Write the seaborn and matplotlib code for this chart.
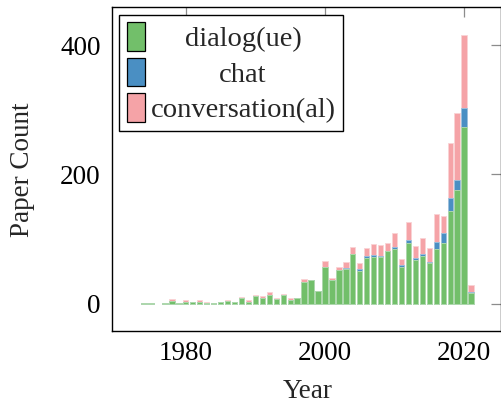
import matplotlib
matplotlib.use("Agg")
import matplotlib.pyplot as plt
import seaborn as sns
import numpy as np
import pandas as pd

# paper counts per year (1976 had none)
years = [1974, 1975, 1977, 1978, 1979, 1980, 1981, 1982, 1983, 1984,
         1985, 1986, 1987, 1988, 1989, 1990, 1991, 1992, 1993, 1994,
         1995, 1996, 1997, 1998, 1999, 2000, 2001, 2002, 2003, 2004,
         2005, 2006, 2007, 2008, 2009, 2010, 2011, 2012, 2013, 2014,
         2015, 2016, 2017, 2018, 2019, 2020, 2021]
dialog = [1, 1, 1, 4, 1, 3, 2, 3, 1, 1,
          2, 4, 2, 9, 3, 12, 8, 13, 7, 13,
          6, 8, 34, 36, 19, 57, 36, 52, 53, 77,
          51, 71, 72, 72, 81, 84, 56, 93, 67, 73,
          62, 84, 94, 143, 175, 273, 16]
chat = [0, 0, 0, 0, 0, 0, 0, 0, 0, 0,
        0, 0, 0, 0, 0, 0, 0, 0, 0, 1,
        0, 0, 0, 0, 0, 0, 0, 0, 2, 0,
        2, 3, 3, 2, 0, 4, 3, 6, 4, 4,
        3, 12, 15, 20, 17, 29, 2]
conversation = [0, 0, 0, 3, 0, 2, 1, 2, 1, 0,
                1, 2, 0, 1, 2, 2, 3, 5, 2, 1,
                2, 1, 4, 1, 1, 9, 4, 5, 9, 11,
                9, 12, 17, 16, 12, 21, 10, 27, 18, 24,
                21, 43, 27, 85, 103, 113, 10]

labels = ["dialog(ue)", "chat", "conversation(al)"]
colors = ["#72bf6a", "#4a8fc3", "#f5a3a7"]
edges = ["#b5dcae", "#9cc3e0", "#fad3d5"]

df = pd.DataFrame({"year": years, "dialog": dialog, "chat": chat,
                   "conversation": conversation})
df["lvl1"] = df["dialog"]
df["lvl2"] = df["lvl1"] + df["chat"]
df["lvl3"] = df["lvl2"] + df["conversation"]

sns.set_theme(style="white")
plt.rcParams["font.family"] = ["Liberation Serif", "DejaVu Serif"]
plt.rcParams["mathtext.fontset"] = "stix"

fig = plt.figure(figsize=(5.01, 4.05), dpi=100)
ax = fig.add_axes([0.223, 0.1827, 0.777, 0.8])

# stacked bars: draw totals first, then overlay the lower layers
for col, c, e, lab in [("lvl3", colors[2], edges[2], labels[2]),
                       ("lvl2", colors[1], edges[1], labels[1]),
                       ("lvl1", colors[0], edges[0], labels[0])]:
    sns.barplot(data=df, x="year", y=col, native_scale=True, width=0.77,
                color=c, edgecolor=e, linewidth=0.6, saturation=1,
                label=lab, ax=ax)

ax.set_xlim(1969.35, 2025.3)
ax.set_ylim(-42.5, 459)
ax.set_xticks([1980, 2000, 2020])
ax.set_yticks([0, 200, 400])
ax.tick_params(direction="in", length=7.5, width=0.9, color="#8c8c8c",
               labelsize=19.5, top=True, right=True, pad=7, labelcolor="black")
ax.tick_params(axis="y", pad=8)
for s in ax.spines.values():
    s.set_color("black")
    s.set_linewidth(1.0)

ax.set_xlabel("Year", fontsize=19.5)
ax.set_ylabel("Paper Count", fontsize=19.5)
ax.xaxis.label.set_va("center")
ax.yaxis.label.set_va("center")
ax.xaxis.set_label_coords(0.504, -0.188)
ax.yaxis.set_label_coords(-0.23, 0.497)

h, l = ax.get_legend_handles_labels()
order = [l.index(x) for x in labels]
leg = ax.legend([h[i] for i in order], [l[i] for i in order],
                loc="upper left", fontsize=20.5, frameon=True, fancybox=False,
                framealpha=1, edgecolor="black", borderaxespad=0.27,
                borderpad=0.27, labelspacing=0.2, handlelength=0.62,
                handleheight=1.15, handletextpad=0.2)
leg.get_frame().set_linewidth(1.0)
for p in leg.get_patches():
    p.set_edgecolor("black")
    p.set_linewidth(0.9)

# centre the labels inside the legend column, like pgfplots does
fig.canvas.draw()
rend = fig.canvas.get_renderer()
widths = [t.get_window_extent(rend).width for t in leg.get_texts()]
wmax = max(widths)
for t, w in zip(leg.get_texts(), widths):
    t.set_x((wmax - w) / 2)

fig.savefig("out.png", dpi=100)
